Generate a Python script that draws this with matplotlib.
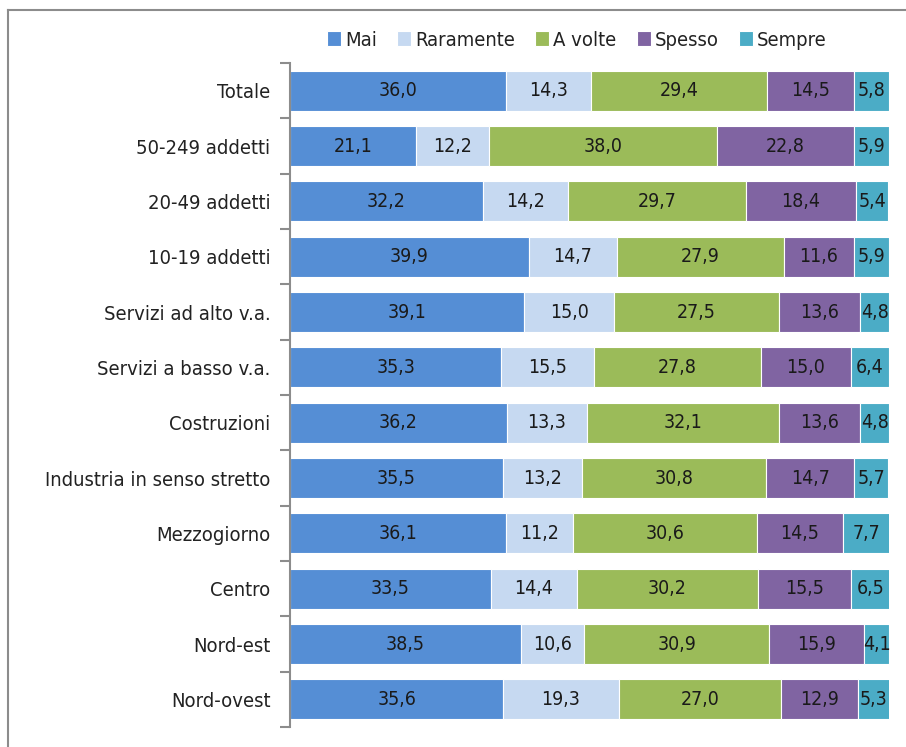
import matplotlib
matplotlib.use("Agg")
import matplotlib.pyplot as plt
from matplotlib.lines import Line2D

plt.rcParams['font.family'] = ['DejaVu Sans']
plt.rcParams['font.stretch'] = 'condensed'

categories = ["Totale", "50-249 addetti", "20-49 addetti", "10-19 addetti",
              "Servizi ad alto v.a.", "Servizi a basso v.a.", "Costruzioni",
              "Industria in senso stretto", "Mezzogiorno", "Centro",
              "Nord-est", "Nord-ovest"]
series = ["Mai", "Raramente", "A volte", "Spesso", "Sempre"]
mai = [36.0, 21.1, 32.2, 39.9, 39.1, 35.3, 36.2, 35.5, 36.1, 33.5, 38.5, 35.6]
raramente = [14.3, 12.2, 14.2, 14.7, 15.0, 15.5, 13.3, 13.2, 11.2, 14.4, 10.6, 19.3]
a_volte = [29.4, 38.0, 29.7, 27.9, 27.5, 27.8, 32.1, 30.8, 30.6, 30.2, 30.9, 27.0]
spesso = [14.5, 22.8, 18.4, 11.6, 13.6, 15.0, 13.6, 14.7, 14.5, 15.5, 15.9, 12.9]
sempre = [5.8, 5.9, 5.4, 5.9, 4.8, 6.4, 4.8, 5.7, 7.7, 6.5, 4.1, 5.3]
colors = ["#558ED5", "#C6D9F1", "#9BBB59", "#8064A2", "#4BACC6"]

fig = plt.figure(figsize=(9.06, 7.47), dpi=100)
ax = fig.add_axes([290 / 906, 1 - 727 / 747, 599 / 906, 664 / 747])

# outer frame of the chart area (left and top edges)
fig.add_artist(Line2D([8 / 906, 8 / 906], [0, 1 - 10 / 747], transform=fig.transFigure,
                      color="#8c8c8c", lw=1.5))
fig.add_artist(Line2D([8 / 906, 1], [1 - 10 / 747, 1 - 10 / 747], transform=fig.transFigure,
                      color="#8c8c8c", lw=1.5))

y = list(range(len(categories)))
left = [0.0] * len(categories)
for name, vals, c in zip(series, [mai, raramente, a_volte, spesso, sempre], colors):
    bars = ax.barh(y, vals, left=left, height=0.72, color=c, edgecolor="white",
                   linewidth=0.8, label=name)
    for rect, v in zip(bars, vals):
        ax.text(rect.get_x() + rect.get_width() / 2, rect.get_y() + rect.get_height() / 2,
                f"{v:.1f}".replace(".", ","), ha="center", va="center",
                fontsize=14, color="#1a1a1a")
    left = [l + v for l, v in zip(left, vals)]

ax.set_xlim(0, 100)
ax.set_ylim(len(categories) - 0.5, -0.5)
ax.set_yticks(y)
ax.set_yticklabels(categories, fontsize=14.5, color="#222222")
ax.set_yticks([i - 0.5 for i in range(len(categories) + 1)], minor=True)
ax.tick_params(axis="y", which="major", length=0, pad=14)
ax.tick_params(axis="y", which="minor", length=7, width=1.5, color="#8c8c8c", direction="out")
ax.set_xticks([])
for side in ["top", "right", "bottom"]:
    ax.spines[side].set_visible(False)
ax.spines["left"].set_color("#8c8c8c")
ax.spines["left"].set_linewidth(1.5)

fig.legend(loc="center", bbox_to_anchor=(577 / 906, 1 - 40 / 747), ncol=5, frameon=False,
           fontsize=14.5, handlelength=0.7, handleheight=0.7, handletextpad=0.2,
           columnspacing=1.0, labelcolor="#222222")

fig.savefig("out.png", dpi=100)
